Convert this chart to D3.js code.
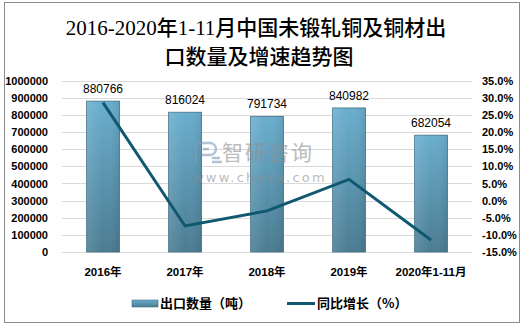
<!DOCTYPE html>
<html>
<head>
<meta charset="utf-8">
<script src="https://cdn.jsdelivr.net/npm/d3@7"></script>
<style>
  html, body { margin: 0; padding: 0; background: #fff; }
  svg { display: block; }
</style>
</head>
<body>
<svg id="chart" width="525" height="328"></svg>
<script>
// Export volume (tonnes) and year-on-year growth (%)
const categories = ["2016年", "2017年", "2018年", "2019年", "2020年1-11月"];
const exportVolume = [880766, 816024, 791734, 840982, 682054];
const growthRate = [28.6, -7.4, -3.0, 6.2, -11.5];
const leftTicks = [0, 100000, 200000, 300000, 400000, 500000, 600000, 700000, 800000, 900000, 1000000];
const rightTicks = [-15, -10, -5, 0, 5, 10, 15, 20, 25, 30, 35];
const titleLines = ["2016-2020年1-11月中国未锻轧铜及铜材出", "口数量及增速趋势图"];
const legendLabels = ["出口数量（吨）", "同比增长（%）"];

const svg = d3.select("#chart");
const plot = { left: 62, right: 472, top: 80.7, bottom: 252 };
const numFont = "'Liberation Sans', Arial, sans-serif";
const cjkFont = "'Liberation Sans', 'Noto Sans CJK SC', sans-serif";

// outer frame
svg.append("rect")
  .attr("x", 4.5).attr("y", 2.5).attr("width", 515).attr("height", 320)
  .attr("fill", "#fff").attr("stroke", "#8c8c8c").attr("stroke-width", 1);

// title
svg.append("g").selectAll("text").data(titleLines).join("text")
  .attr("x", (d, i) => i === 0 ? 256 : 259)
  .attr("y", (d, i) => 35 + i * 29)
  .attr("text-anchor", "middle")
  .attr("font-family", "'Liberation Serif', 'Noto Sans CJK SC', serif")
  .attr("font-size", 21)
  .attr("font-weight", 500)
  .attr("fill", "#000")
  .text(d => d);

// scales
const x = d3.scaleBand().domain(categories).range([plot.left, plot.right]).paddingInner(0.6).paddingOuter(0.3);
const yL = d3.scaleLinear().domain([0, 1000000]).range([plot.bottom, plot.top]);
const yR = d3.scaleLinear().domain([-15, 35]).range([plot.bottom, plot.top]);

// gridlines
svg.append("g").selectAll("line").data(leftTicks).join("line")
  .attr("x1", plot.left).attr("x2", plot.right)
  .attr("y1", d => Math.round(yL(d)) + 0.5).attr("y2", d => Math.round(yL(d)) + 0.5)
  .attr("stroke", "#d9d9d9").attr("stroke-width", 1);

// left axis
const axL = svg.append("g").attr("transform", `translate(${plot.left},0)`)
  .call(d3.axisLeft(yL).tickValues(leftTicks).tickFormat(d3.format("d")).tickSize(0).tickPadding(14));
axL.select(".domain").remove();
axL.selectAll("text").attr("font-family", numFont).attr("font-size", 11).attr("font-weight", "bold").attr("fill", "#000");

// right axis
const axR = svg.append("g").attr("transform", `translate(${plot.right},0)`)
  .call(d3.axisRight(yR).tickValues(rightTicks).tickFormat(d => d.toFixed(1) + "%").tickSize(0).tickPadding(10));
axR.select(".domain").remove();
axR.selectAll("text").attr("font-family", numFont).attr("font-size", 11).attr("font-weight", "bold").attr("fill", "#000");

// category axis labels
svg.append("g").selectAll("text").data(categories).join("text")
  .attr("x", d => x(d) + x.bandwidth() / 2)
  .attr("y", 276)
  .attr("text-anchor", "middle")
  .attr("font-family", cjkFont).attr("font-size", 11.5).attr("font-weight", "bold").attr("fill", "#000")
  .text(d => d);

// bar gradients
const defs = svg.append("defs");
const grad = defs.append("linearGradient").attr("id", "barGrad").attr("x1", 0).attr("y1", 0).attr("x2", 0).attr("y2", 1);
grad.append("stop").attr("offset", "0%").attr("stop-color", "#6aaece");
grad.append("stop").attr("offset", "100%").attr("stop-color", "#4a7c92");
const gradH = defs.append("linearGradient").attr("id", "barGradH").attr("x1", 0).attr("y1", 0).attr("x2", 1).attr("y2", 0);
gradH.append("stop").attr("offset", "0%").attr("stop-color", "#fff").attr("stop-opacity", 0.12);
gradH.append("stop").attr("offset", "50%").attr("stop-color", "#fff").attr("stop-opacity", 0);
gradH.append("stop").attr("offset", "100%").attr("stop-color", "#000").attr("stop-opacity", 0.08);

// bars
const bars = svg.append("g");
bars.selectAll("rect.bar").data(exportVolume).join("rect").attr("class", "bar")
  .attr("x", (d, i) => x(categories[i]))
  .attr("y", d => yL(d))
  .attr("width", x.bandwidth())
  .attr("height", d => yL(0) - yL(d))
  .attr("fill", "url(#barGrad)")
  .attr("stroke", "#3f6f85").attr("stroke-width", 0.8);
bars.selectAll("rect.shade").data(exportVolume).join("rect").attr("class", "shade")
  .attr("x", (d, i) => x(categories[i]))
  .attr("y", d => yL(d))
  .attr("width", x.bandwidth())
  .attr("height", d => yL(0) - yL(d))
  .attr("fill", "url(#barGradH)");

// watermark
const wm = svg.append("g").attr("opacity", 0.6);
wm.append("path")
  .attr("d", "M196,143 h14 a6,6 0 0 1 0,12 h-8 M196,143 v20 M203,149 h6 M212,158 h8 M212,162 h10")
  .attr("fill", "none").attr("stroke", "#7c9cbc").attr("stroke-width", 2.4);
wm.append("text").attr("x", 222).attr("y", 160)
  .attr("font-family", "'Noto Sans CJK SC', sans-serif").attr("font-size", 21).attr("fill", "#8f8f8f")
  .attr("letter-spacing", 2).text("智研咨询");
wm.append("text").attr("x", 193).attr("y", 182)
  .attr("font-family", "'DejaVu Sans', sans-serif").attr("font-size", 13).attr("fill", "#8f8f8f")
  .attr("letter-spacing", 2.2).text("www.chyxx.com");

// bar value labels
svg.append("g").selectAll("text").data(exportVolume).join("text")
  .attr("x", (d, i) => x(categories[i]) + x.bandwidth() / 2)
  .attr("y", d => yL(d) - 8)
  .attr("text-anchor", "middle")
  .attr("font-family", numFont).attr("font-size", 12).attr("fill", "#000")
  .text(d => d);

// growth line
const line = d3.line()
  .x((d, i) => x(categories[i]) + x.bandwidth() / 2)
  .y(d => yR(d));
svg.append("path").datum(growthRate)
  .attr("d", line)
  .attr("fill", "none").attr("stroke", "#0f5870").attr("stroke-width", 3)
  .attr("stroke-linejoin", "miter");

// legend
const lg = svg.append("g");
lg.append("rect").attr("x", 132).attr("y", 300).attr("width", 26).attr("height", 7)
  .attr("fill", "url(#barGrad)").attr("stroke", "#3f6f85").attr("stroke-width", 0.6);
lg.append("text").attr("x", 160).attr("y", 308)
  .attr("font-family", "'Noto Sans CJK SC', sans-serif").attr("font-size", 13).attr("font-weight", "bold").attr("fill", "#000")
  .text(legendLabels[0]);
lg.append("line").attr("x1", 287).attr("x2", 315).attr("y1", 303.5).attr("y2", 303.5)
  .attr("stroke", "#0f5870").attr("stroke-width", 3);
lg.append("text").attr("x", 317).attr("y", 308)
  .attr("font-family", "'Noto Sans CJK SC', sans-serif").attr("font-size", 13).attr("font-weight", "bold").attr("fill", "#000")
  .text(legendLabels[1]);
</script>
</body>
</html>
